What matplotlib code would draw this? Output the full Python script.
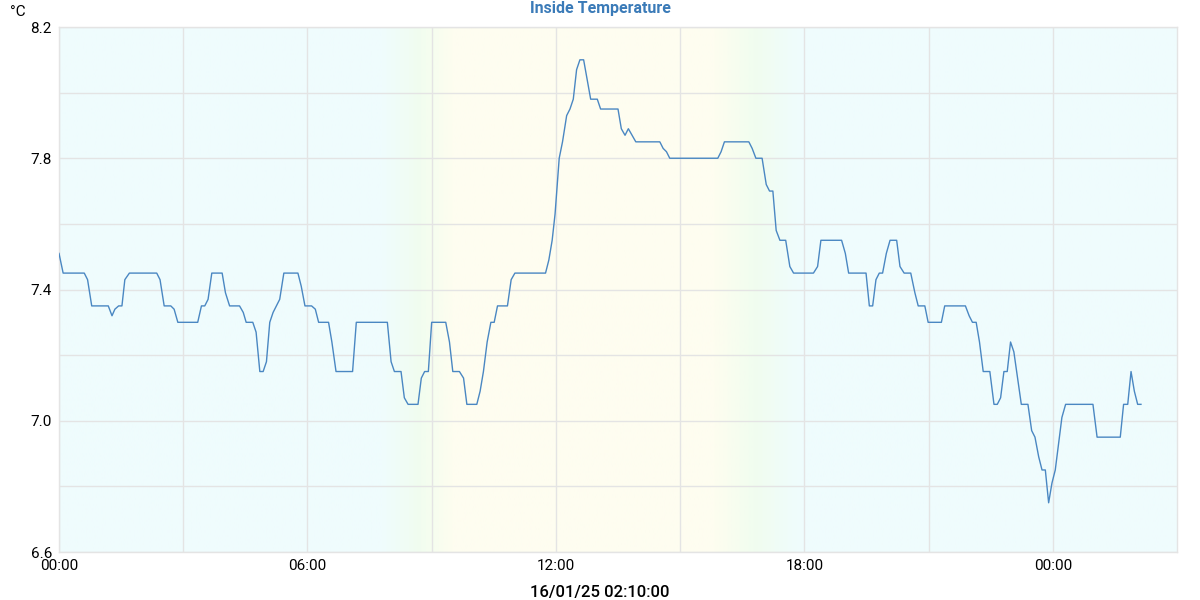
import numpy as np
import matplotlib
matplotlib.use('Agg')
import matplotlib.pyplot as plt
from matplotlib.colors import LinearSegmentedColormap

# hours since 00:00 on the first day, and inside temperature (°C)
hours = [0.00, 0.10, 0.61, 0.69, 0.79, 1.19, 1.28, 1.35, 1.44, 1.52, 1.59, 1.70,
         2.36, 2.44, 2.54, 2.70, 2.78, 2.87, 3.35, 3.44, 3.52, 3.60, 3.69, 3.94,
         4.02, 4.12, 4.36, 4.45, 4.52, 4.68, 4.76, 4.85, 4.93, 5.01, 5.09, 5.17,
         5.33, 5.43, 5.77, 5.85, 5.94, 6.10, 6.19, 6.27, 6.51, 6.59, 6.69, 7.09,
         7.18, 7.93, 8.02, 8.10, 8.26, 8.34, 8.43, 8.67, 8.75, 8.83, 8.92, 9.00,
         9.34, 9.43, 9.51, 9.67, 9.77, 9.85, 10.09, 10.17, 10.25, 10.34, 10.43, 10.51,
         10.59, 10.83, 10.92, 11.01, 11.75, 11.83, 11.91, 11.98, 12.08, 12.16, 12.26, 12.34,
         12.42, 12.50, 12.58, 12.67, 12.84, 13.00, 13.08, 13.50, 13.58, 13.67, 13.75, 13.93,
         14.51, 14.59, 14.67, 14.75, 15.91, 15.99, 16.07, 16.66, 16.74, 16.83, 16.98, 17.08,
         17.16, 17.24, 17.32, 17.41, 17.55, 17.65, 17.74, 18.22, 18.32, 18.40, 18.90, 18.99,
         19.07, 19.49, 19.57, 19.65, 19.73, 19.81, 19.89, 19.98, 20.07, 20.23, 20.31, 20.41,
         20.57, 20.67, 20.75, 20.91, 20.99, 21.31, 21.39, 21.89, 21.98, 22.06, 22.15, 22.23,
         22.32, 22.48, 22.58, 22.66, 22.74, 22.82, 22.90, 22.98, 23.06, 23.24, 23.40, 23.49,
         23.57, 23.66, 23.74, 23.82, 23.90, 23.98, 24.06, 24.22, 24.31, 24.97, 25.07, 25.63,
         25.71, 25.81, 25.89, 25.97, 26.05, 26.13]
temps = [7.51, 7.45, 7.45, 7.43, 7.35, 7.35, 7.32, 7.34, 7.35, 7.35, 7.43, 7.45,
         7.45, 7.43, 7.35, 7.35, 7.34, 7.30, 7.30, 7.35, 7.35, 7.37, 7.45, 7.45,
         7.39, 7.35, 7.35, 7.33, 7.30, 7.30, 7.27, 7.15, 7.15, 7.18, 7.30, 7.33,
         7.37, 7.45, 7.45, 7.41, 7.35, 7.35, 7.34, 7.30, 7.30, 7.24, 7.15, 7.15,
         7.30, 7.30, 7.18, 7.15, 7.15, 7.07, 7.05, 7.05, 7.13, 7.15, 7.15, 7.30,
         7.30, 7.24, 7.15, 7.15, 7.13, 7.05, 7.05, 7.09, 7.15, 7.24, 7.30, 7.30,
         7.35, 7.35, 7.43, 7.45, 7.45, 7.49, 7.55, 7.63, 7.80, 7.85, 7.93, 7.95,
         7.98, 8.07, 8.10, 8.10, 7.98, 7.98, 7.95, 7.95, 7.89, 7.87, 7.89, 7.85,
         7.85, 7.83, 7.82, 7.80, 7.80, 7.82, 7.85, 7.85, 7.83, 7.80, 7.80, 7.72,
         7.70, 7.70, 7.58, 7.55, 7.55, 7.47, 7.45, 7.45, 7.47, 7.55, 7.55, 7.51,
         7.45, 7.45, 7.35, 7.35, 7.43, 7.45, 7.45, 7.51, 7.55, 7.55, 7.47, 7.45,
         7.45, 7.39, 7.35, 7.35, 7.30, 7.30, 7.35, 7.35, 7.32, 7.30, 7.30, 7.24,
         7.15, 7.15, 7.05, 7.05, 7.07, 7.15, 7.15, 7.24, 7.21, 7.05, 7.05, 6.97,
         6.95, 6.89, 6.85, 6.85, 6.75, 6.81, 6.85, 7.01, 7.05, 7.05, 6.95, 6.95,
         7.05, 7.05, 7.15, 7.09, 7.05, 7.05]

x_ticks = [0, 6, 12, 18, 24]
x_labels = ['00:00', '06:00', '12:00', '18:00', '00:00']
y_ticks = [6.6, 7.0, 7.4, 7.8, 8.2]
y_labels = ['6.6', '7.0', '7.4', '7.8', '8.2']

X_MAX = 27
Y_MIN, Y_MAX = 6.6, 8.2

plt.rcParams['font.family'] = ['Roboto', 'DejaVu Sans']
plt.rcParams['font.size'] = 11

fig = plt.figure(figsize=(12, 6), dpi=100)
ax = fig.add_axes([59 / 1200, 1 - 552 / 600, (1177 - 59) / 1200, (552 - 27) / 600])

# night / day shading: cyan -> green -> yellow -> green -> cyan
night, dawn, day = '#effcfd', '#f1fdef', '#fefdf0'
stops = [(0, night), (7.8, night), (8.7, dawn), (9.5, day), (15.8, day),
         (16.8, dawn), (17.9, night), (X_MAX, night)]
cmap = LinearSegmentedColormap.from_list('daynight', [(h / X_MAX, c) for h, c in stops])
ax.imshow(np.linspace(0, 1, 1000).reshape(1, -1), cmap=cmap, aspect='auto',
          extent=[0, X_MAX, Y_MIN, Y_MAX], zorder=0, interpolation='bilinear')

ax.plot(hours, temps, color='#4a87c2', linewidth=1.0, zorder=3)

ax.set_xlim(0, X_MAX)
ax.set_ylim(Y_MIN, Y_MAX)
ax.set_xticks(np.arange(0, X_MAX, 3), minor=True)
ax.set_yticks(np.arange(6.6, 8.21, 0.2), minor=True)
ax.set_xticks(x_ticks)
ax.set_xticklabels(x_labels)
ax.set_yticks(y_ticks)
ax.set_yticklabels(y_labels)
ax.grid(which='both', color='#e4e4e4', linewidth=1.0, zorder=1)
ax.set_axisbelow(False)
for line in ax.get_xgridlines() + ax.get_ygridlines():
    line.set_zorder(1)
ax.tick_params(which='both', length=0)
ax.tick_params(axis='x', pad=5)
ax.tick_params(axis='y', pad=5)
for sp in ax.spines.values():
    sp.set_color('#e4e4e4')
    sp.set_linewidth(1.0)

fig.text(0.5, 1 - 9 / 600, 'Inside Temperature', ha='center', va='center',
         fontsize=11.5, fontweight='bold', color='#3b7bb8')
fig.text(10 / 1200, 1 - 12 / 600, '°C', ha='left', va='center', fontsize=11)
fig.text(0.5, 1 - 592 / 600, '16/01/25 02:10:00', ha='center', va='center',
         fontsize=12, fontweight='medium')

fig.savefig('out.png', dpi=100)
